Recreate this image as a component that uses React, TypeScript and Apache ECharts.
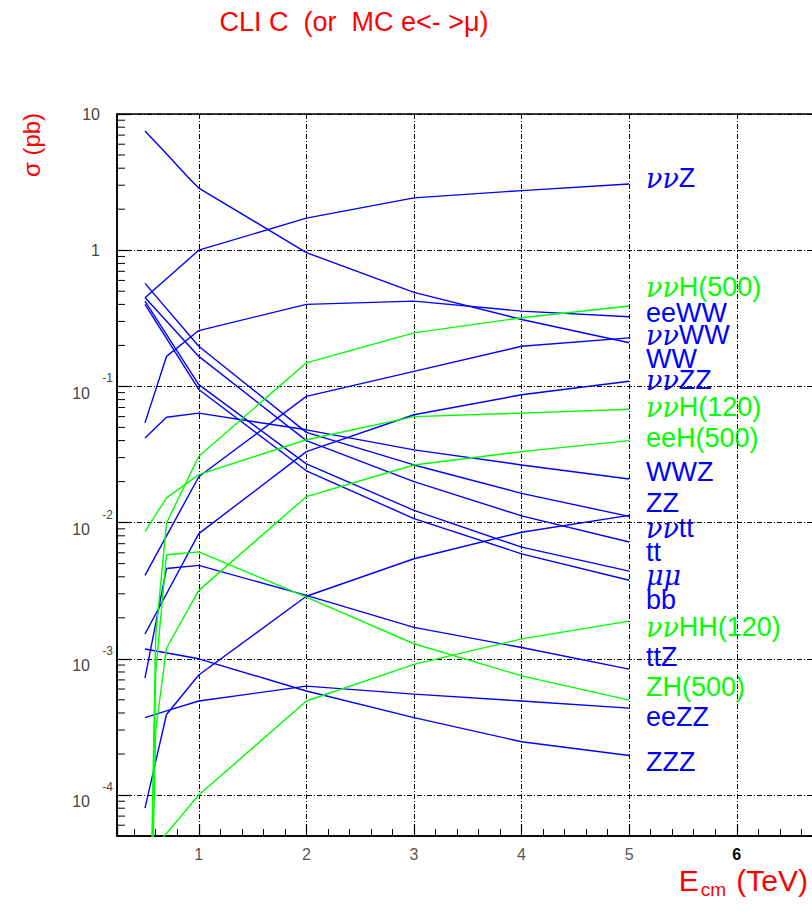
import React, { useEffect, useRef } from 'react';
import * as echarts from 'echarts';

// ---------- data ----------
const energies = [0.5, 0.6, 0.7, 0.9, 1, 2, 3, 4, 5]; // E_cm in TeV

const sigmaNuNuZ = [0.448, null, null, null, 1.0, 1.72, 2.42, 2.74, 3.06];
const sigmaWW = [7.5, null, 5.1, 3.43, 2.86, 0.96, 0.49, 0.31, 0.209];
const sigmaEeWW = [0.054, null, 0.166, null, 0.257, 0.4, 0.423, 0.357, 0.325];
const sigmaNuNuWW = [0.0041, null, null, null, 0.0217, 0.0845, 0.129, 0.197, 0.227];
const sigmaNuNuZZ = [0.00152, null, null, null, 0.0083, 0.0332, 0.0619, 0.0868, 0.109];
const sigmaWWZ = [0.0418, null, 0.0593, null, 0.0637, 0.048, 0.0342, 0.0265, 0.0209];
const sigmaZZ = [0.571, null, null, null, 0.197, 0.046, 0.0265, 0.0164, 0.0111];
const sigmaTT = [0.45, null, null, null, 0.166, 0.04, 0.02, 0.0112, 0.0072];
const sigmaMuMu = [0.423, null, null, null, 0.103, 0.027, 0.0123, 0.0066, 0.0044];
const sigmaBB = [0.4, null, null, null, 0.095, 0.024, 0.0107, 0.0059, 0.00377];
const sigmaNuNuTT = [0.00008, null, 0.00039, null, 0.00076, 0.00288, 0.00543, 0.0085, 0.0113];
const sigmaTTZ = [0.00072, null, 0.0046, null, 0.00485, 0.00292, 0.0017, 0.00121, 0.00084];
const sigmaEeZZ = [0.00037, null, 0.000415, null, 0.00049, 0.00063, 0.00055, 0.00049, 0.000434];
const sigmaZZZ = [0.00118, null, null, null, 0.001, 0.00058, 0.00037, 0.000246, 0.000195];
const sigmaNuNuH500 = [1e-7, 0.0015, 0.0099, null, 0.0307, 0.149, 0.247, 0.319, 0.389];
const sigmaNuNuH120 = [0.0086, null, 0.0152, null, 0.0225, 0.0406, 0.06, 0.0637, 0.068];
const sigmaEeH500 = [1e-7, 0.0003, 0.0012, null, 0.00318, 0.0155, 0.0265, 0.0332, 0.04];
const sigmaNuNuHH120 = [0.000034, null, null, null, 0.0001, 0.00049, 0.00091, 0.0014, 0.00189];
const sigmaZH500 = [1e-7, 0.0008, 0.0058, null, 0.0061, 0.00284, 0.00129, 0.00075, 0.000497];

// axis ranges and tick values
const X_MIN = 0.24;
const X_MAX = 7;
const Y_MIN = 5e-5;
const Y_MAX = 10;
const minorMultipliers = [2, 3, 4, 5, 6, 7, 8, 9];
const minorDecades = [-5, -4, -3, -2, -1, 0];

const BLUE = '#0000ff';
const GREEN = '#00ff00';

const processes = [
  { name: 'WW', values: sigmaWW, color: BLUE },
  { name: 'ννZ', values: sigmaNuNuZ, color: BLUE },
  { name: 'eeWW', values: sigmaEeWW, color: BLUE },
  { name: 'ννWW', values: sigmaNuNuWW, color: BLUE },
  { name: 'ννZZ', values: sigmaNuNuZZ, color: BLUE },
  { name: 'WWZ', values: sigmaWWZ, color: BLUE },
  { name: 'ZZ', values: sigmaZZ, color: BLUE },
  { name: 'tt', values: sigmaTT, color: BLUE },
  { name: 'μμ', values: sigmaMuMu, color: BLUE },
  { name: 'bb', values: sigmaBB, color: BLUE },
  { name: 'ννtt', values: sigmaNuNuTT, color: BLUE },
  { name: 'ttZ', values: sigmaTTZ, color: BLUE },
  { name: 'eeZZ', values: sigmaEeZZ, color: BLUE },
  { name: 'ZZZ', values: sigmaZZZ, color: BLUE },
  { name: 'ννH(500)', values: sigmaNuNuH500, color: GREEN },
  { name: 'ννH(120)', values: sigmaNuNuH120, color: GREEN },
  { name: 'eeH(500)', values: sigmaEeH500, color: GREEN },
  { name: 'ννHH(120)', values: sigmaNuNuHH120, color: GREEN },
  { name: 'ZH(500)', values: sigmaZH500, color: GREEN },
];

// right-hand labels: [rich text, colour, y pixel]
const labelLayout: [string, string, number][] = [
  ['{g|νν}{r|Z}', BLUE, 178],
  ['{g|νν}{r|H(500)}', GREEN, 287],
  ['{r|eeWW}', BLUE, 313],
  ['{g|νν}{r|WW}', BLUE, 335],
  ['{r|WW}', BLUE, 359],
  ['{g|νν}{r|ZZ}', BLUE, 380],
  ['{g|νν}{r|H(120)}', GREEN, 407],
  ['{r|eeH(500)}', GREEN, 438],
  ['{r|WWZ}', BLUE, 472],
  ['{r|ZZ}', BLUE, 503],
  ['{g|νν}{r|tt}', BLUE, 528],
  ['{r|tt}', BLUE, 552],
  ['{g|μμ}', BLUE, 575],
  ['{r|bb}', BLUE, 600],
  ['{g|νν}{r|HH(120)}', GREEN, 627],
  ['{r|ttZ}', BLUE, 657],
  ['{r|ZH(500)}', GREEN, 687],
  ['{r|eeZZ}', BLUE, 717],
  ['{r|ZZZ}', BLUE, 762],
];

const SANS = '"Liberation Sans", Arial, Helvetica, sans-serif';
const GREEK = '"DejaVu Serif", "Liberation Serif", serif';
const DASH = [5, 2, 1, 2];
const PX_PER_TEV = 107.6;

export default function App() {
  const ref = useRef<HTMLDivElement>(null);

  useEffect(() => {
    if (!ref.current) return;
    const chart = echarts.init(ref.current, undefined, { renderer: 'svg' });

    const minorTicks: number[][] = [];
    minorDecades.forEach((d) => {
      minorMultipliers.forEach((m) => {
        const v = m * Math.pow(10, d);
        if (v > Y_MIN && v < Y_MAX) minorTicks.push([X_MIN, v]);
      });
    });

    const lineSeries = processes.map((p) => ({
      name: p.name,
      type: 'line',
      data: energies
        .map((e, i) => [e, p.values[i]])
        .filter((pt) => pt[1] !== null),
      showSymbol: false,
      symbol: 'none',
      clip: true,
      silent: true,
      lineStyle: { color: p.color, width: 1.4 },
      itemStyle: { color: p.color },
      z: 3,
    }));

    const graphicTexts: any[] = [
      {
        type: 'text',
        x: 354,
        y: 22,
        style: {
          text: 'CLI C  (or  MC e<- >μ)',
          fill: '#ff0000',
          font: `27px ${SANS}`,
          align: 'center',
          verticalAlign: 'middle',
        },
      },
      {
        type: 'text',
        x: 31,
        y: 145,
        rotation: Math.PI / 2,
        style: {
          text: 'σ (pb)',
          fill: '#ff0000',
          font: `24px ${SANS}`,
          align: 'center',
          verticalAlign: 'middle',
        },
      },
      {
        type: 'text',
        x: 808,
        y: 882,
        style: {
          text: '{E|E}{s|cm}{E| (TeV)}',
          align: 'right',
          verticalAlign: 'middle',
          rich: {
            E: { fontSize: 30, fontFamily: SANS, fill: '#ff0000', verticalAlign: 'top', lineHeight: 34 },
            s: { fontSize: 19, fontFamily: SANS, fill: '#ff0000', verticalAlign: 'bottom', lineHeight: 19, padding: [0, 2, 0, 2] },
          },
        },
      },
      ...labelLayout.map(([txt, col, y]) => ({
        type: 'text',
        x: 646,
        y,
        style: {
          text: txt,
          align: 'left',
          verticalAlign: 'middle',
          rich: {
            g: { fontSize: 27, fontFamily: GREEK, fontStyle: 'italic', fill: col },
            r: { fontSize: 27, fontFamily: SANS, fill: col },
          },
        },
      })),
    ];

    chart.setOption({
      animation: false,
      grid: {
        left: 117,
        top: 114,
        bottom: 83,
        width: (X_MAX - X_MIN) * PX_PER_TEV,
        show: true,
        borderColor: '#000',
        borderWidth: 1.5,
        containLabel: false,
        outerBoundsMode: 'none',
      },
      xAxis: {
        type: 'value',
        min: X_MIN,
        max: X_MAX,
        splitNumber: 7,
        axisLine: { show: true, onZero: false, lineStyle: { color: '#000', width: 1.5 } },
        axisTick: { show: true, inside: true, length: 12, lineStyle: { color: '#000', width: 1.2 } },
        minorTick: { show: true, splitNumber: 5, length: 7, lineStyle: { color: '#000', width: 1 } },
        splitLine: { show: true, lineStyle: { color: '#000', width: 1, type: DASH } },
        axisLabel: {
          showMinLabel: false,
          showMaxLabel: false,
          margin: 10,
          formatter: (v: number) => (Math.abs(v - 6) < 1e-9 ? `{k|${v}}` : `{n|${v}}`),
          rich: {
            n: { fontSize: 16, fontFamily: SANS, color: '#555' },
            k: { fontSize: 16, fontFamily: SANS, color: '#000', fontWeight: 'bold' },
          },
        },
      },
      yAxis: {
        type: 'log',
        logBase: 10,
        min: Y_MIN,
        max: Y_MAX,
        axisLine: { show: true, lineStyle: { color: '#000', width: 1.5 } },
        axisTick: { show: true, inside: true, length: 14, lineStyle: { color: '#000', width: 1.2 } },
        splitLine: { show: true, lineStyle: { color: '#000', width: 1, type: DASH } },
        axisLabel: {
          showMinLabel: false,
          margin: 4,
          align: 'right',
          formatter: (v: number) => {
            const l = Math.log10(v);
            const k = Math.round(l);
            if (Math.abs(l - k) > 1e-6) return '';
            if (k === 1) return '{p|10}';
            if (k === 0) return '{p|1}';
            return `{e|${k}}\n{b|10}`;
          },
          rich: {
            p: { fontSize: 16, fontFamily: SANS, color: '#444', lineHeight: 18, padding: [0, 13, 0, 0] },
            b: { fontSize: 16, fontFamily: SANS, color: '#444', lineHeight: 16, padding: [0, 23, 0, 0] },
            e: { fontSize: 12, fontFamily: SANS, color: '#444', lineHeight: 14 },
          },
        },
      },
      graphic: graphicTexts,
      series: [
        ...lineSeries,
        {
          type: 'custom',
          silent: true,
          clip: false,
          data: minorTicks,
          z: 4,
          renderItem: (params: any, api: any) => {
            const p = api.coord([api.value(0), api.value(1)]);
            return {
              type: 'line',
              shape: { x1: p[0], y1: p[1], x2: p[0] + 8, y2: p[1] },
              style: { stroke: '#000', lineWidth: 1 },
            };
          },
        },
      ],
    });

    return () => chart.dispose();
  }, []);

  return (
    <div
      ref={ref}
      style={{ position: 'absolute', left: 0, top: 0, width: 812, height: 919, background: '#fff', overflow: 'hidden' }}
    />
  );
}
